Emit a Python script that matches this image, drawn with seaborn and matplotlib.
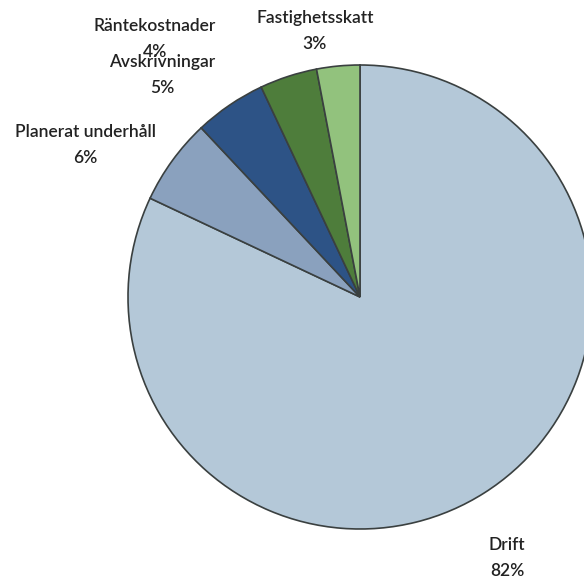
import matplotlib.pyplot as plt
import seaborn as sns

# slice data, clockwise from 12 o'clock
categories = ['Drift', 'Planerat underhåll', 'Avskrivningar', 'Räntekostnader', 'Fastighetsskatt']
shares = [82, 6, 5, 4, 3]
colors = ['#b4c8d8', '#8aa1be', '#2d5386', '#4e7d3b', '#92c27d']

# label block centres (data units, pie radius = 1)
label_pos = [(0.634, -1.125), (-1.185, 0.655), (-0.853, 0.957), (-0.884, 1.112), (-0.194, 1.147)]

sns.set_style("white")
plt.rcParams['font.family'] = ['Lato', 'DejaVu Sans']

fig = plt.figure(figsize=(5.84, 5.85), dpi=100)
ax = fig.add_axes([0, 0, 1, 1])

ax.pie(shares, colors=colors, startangle=90, counterclock=False,
       wedgeprops=dict(edgecolor='#3a4040', linewidth=1.2))

for cat, val, (x, y) in zip(categories, shares, label_pos):
    ax.text(x, y, f"{cat}\n{val}%", ha='center', va='center', fontsize=12.5,
            fontweight='semibold', color='#222222', linespacing=1.75)

ax.set_xlim(-360 / 232, 224 / 232)
ax.set_ylim(-288 / 232, 297 / 232)
ax.set_aspect('auto')
ax.axis('off')

fig.savefig('out.png', dpi=100)
